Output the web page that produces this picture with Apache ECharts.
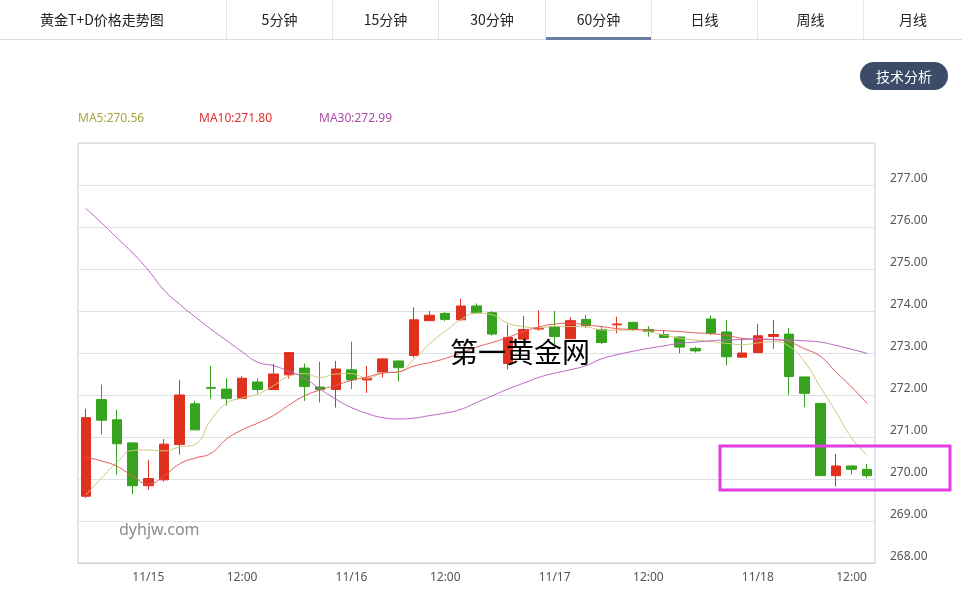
<!DOCTYPE html>
<html>
<head>
<meta charset="utf-8">
<script src="https://cdn.jsdelivr.net/npm/echarts@6/dist/echarts.min.js"></script>
<style>
  html,body{margin:0;padding:0;background:#fff;}
  body{width:962px;height:593px;position:relative;overflow:hidden;font-family:"Noto Sans CJK SC","Noto Sans",sans-serif;}
  #chart{position:absolute;left:0;top:0;width:962px;height:593px;}
  .tabs{position:absolute;left:0;top:0;width:962px;height:39px;border-bottom:1px solid #dcdcdc;z-index:2;}
  .tab{position:absolute;top:0;height:39px;line-height:39px;text-align:center;font-size:14px;color:#222;border-left:1px solid #e6e6e6;box-sizing:border-box;}
  .tab.title{border-left:none;text-align:left;padding-left:40px;}
  .tab.active:after{content:"";position:absolute;left:0;right:0;bottom:-1px;height:3px;background:#6a7ea3;}
  .btn{position:absolute;left:860px;top:62px;width:88px;height:28px;line-height:28px;border-radius:14px;background:#3c4c68;color:#fff;font-size:14px;text-align:center;z-index:2;}
  .legend{position:absolute;top:110px;font-size:12px;line-height:16px;z-index:2;font-family:"Noto Sans","Noto Sans CJK SC",sans-serif;}
</style>
</head>
<body>
<div id="chart"></div>
<div class="tabs">
  <div class="tab title" style="left:0;width:226px;">黄金T+D价格走势图</div>
  <div class="tab" style="left:226px;width:106px;">5分钟</div>
  <div class="tab" style="left:332px;width:106px;">15分钟</div>
  <div class="tab" style="left:438px;width:107px;">30分钟</div>
  <div class="tab active" style="left:545px;width:106px;">60分钟</div>
  <div class="tab" style="left:651px;width:106px;">日线</div>
  <div class="tab" style="left:757px;width:106px;">周线</div>
  <div class="tab" style="left:863px;width:99px;">月线</div>
</div>
<div class="btn">技术分析</div>
<div class="legend" style="left:78px;color:#a9a63c;">MA5:270.56</div>
<div class="legend" style="left:199px;color:#e0302a;">MA10:271.80</div>
<div class="legend" style="left:319px;color:#a84ca8;">MA30:272.99</div>
<script>
// ---- data ----
const categories = [
  "11/14 20:00","11/14 21:00","11/14 22:00","11/14 23:00",
  "11/15 00:00","11/15 01:00","11/15 02:00","11/15 09:00","11/15 10:00","11/15 11:00","11/15 12:00","11/15 14:00","11/15 15:00",
  "11/15 20:00","11/15 21:00","11/15 22:00","11/15 23:00",
  "11/16 00:00","11/16 01:00","11/16 02:00","11/16 09:00","11/16 10:00","11/16 11:00","11/16 12:00","11/16 14:00","11/16 15:00",
  "11/16 20:00","11/16 21:00","11/16 22:00","11/16 23:00",
  "11/17 00:00","11/17 01:00","11/17 02:00","11/17 09:00","11/17 10:00","11/17 11:00","11/17 12:00","11/17 14:00","11/17 15:00",
  "11/17 20:00","11/17 21:00","11/17 22:00","11/17 23:00",
  "11/18 00:00","11/18 01:00","11/18 02:00","11/18 09:00","11/18 10:00","11/18 11:00","11/18 12:00","11/18 14:00"
];
const openVals = [269.59,271.89,271.41,270.86,269.84,269.98,270.82,271.79,272.18,272.14,271.92,272.31,272.13,272.48,272.64,272.19,272.13,272.60,272.36,272.55,272.81,272.94,273.77,273.94,273.79,274.12,273.96,272.75,273.33,273.57,273.63,273.34,273.80,273.56,273.67,273.73,273.56,273.44,273.38,273.11,273.81,273.50,272.90,273.01,273.39,273.45,272.43,271.80,270.08,270.31,270.23];
const closeVals = [271.46,271.40,270.84,269.84,270.01,270.83,272.00,271.17,272.16,271.92,272.40,272.13,272.50,273.01,272.20,272.13,272.62,272.36,272.40,272.86,272.65,273.79,273.90,273.80,274.12,273.96,273.45,273.37,273.56,273.59,273.39,273.77,273.65,273.25,273.69,273.56,273.51,273.37,273.14,273.05,273.47,272.91,273.00,273.41,273.44,272.44,272.04,270.08,270.31,270.23,270.08];
const lowVals = [269.55,271.06,270.10,269.64,269.75,269.94,270.58,271.17,271.91,271.75,271.90,272.04,272.12,272.39,271.86,271.82,271.70,272.14,272.05,272.42,272.32,272.89,273.76,273.76,273.77,273.93,273.41,272.61,273.32,273.53,273.21,273.33,273.59,273.21,273.47,273.53,273.39,273.36,272.99,273.01,273.43,272.70,272.89,273.00,273.10,272.00,271.71,270.08,269.82,270.11,270.02];
const highVals = [271.67,272.25,271.65,270.87,270.45,270.95,272.36,271.86,272.69,272.40,272.45,272.40,272.74,273.02,272.75,272.79,272.81,273.27,272.69,272.87,272.82,274.09,274.00,273.98,274.29,274.18,274.00,273.68,273.88,274.02,274.00,273.85,273.90,273.63,273.86,273.74,273.64,273.55,273.39,273.15,273.89,273.79,273.35,273.69,273.79,273.60,272.44,271.80,270.60,270.31,270.36];
const ma5 = [269.62,270.02,270.40,270.68,270.69,270.67,270.76,270.83,271.40,271.80,271.93,272.02,272.22,272.45,272.51,272.42,272.50,272.51,272.40,272.52,272.55,272.85,273.22,273.52,273.79,273.95,273.91,273.71,273.63,273.60,273.63,273.63,273.62,273.55,273.54,273.55,273.51,273.43,273.35,273.31,273.27,273.23,273.20,273.24,273.27,273.16,272.79,272.19,271.60,270.98,270.56];
const ma10 = [270.52,270.43,270.30,270.07,269.88,270.07,270.36,270.50,270.61,270.95,271.17,271.33,271.51,271.76,271.98,272.12,272.23,272.35,272.43,272.52,272.55,272.69,272.77,272.87,273.00,273.14,273.25,273.37,273.51,273.62,273.69,273.71,273.67,273.63,273.58,273.56,273.55,273.53,273.51,273.48,273.46,273.42,273.35,273.33,273.32,273.26,273.10,272.92,272.55,272.19,271.80];
const ma30 = [276.44,276.10,275.74,275.38,274.97,274.50,274.16,273.86,273.57,273.30,273.03,272.78,272.70,272.56,272.40,272.14,271.90,271.70,271.56,271.46,271.43,271.45,271.51,271.57,271.66,271.82,271.98,272.14,272.28,272.42,272.52,272.60,272.70,272.86,272.96,273.04,273.11,273.17,273.23,273.26,273.29,273.31,273.32,273.33,273.32,273.31,273.29,273.26,273.18,273.09,272.99];

const candleData = categories.map((c, i) => [openVals[i], closeVals[i], lowVals[i], highVals[i]]);
const showTick = (idx, val) => { const t = val.split(" ")[1]; return t === "00:00" || t === "12:00"; };

const chart = echarts.init(document.getElementById('chart'), null, {renderer: 'canvas'});
const axisColor = '#c9d1db';
chart.setOption({
  animation: false,
  backgroundColor: '#fff',
  textStyle: {fontFamily: '"Noto Sans","Noto Sans CJK SC",sans-serif'},
  grid: {left: 78, right: 87, top: 143, bottom: 30, show: true, borderColor: axisColor, borderWidth: 1, backgroundColor: 'transparent'},
  xAxis: {
    type: 'category', data: categories, boundaryGap: true,
    axisLine: {lineStyle: {color: axisColor}},
    axisTick: {inside: true, length: 10, alignWithLabel: true, interval: showTick, lineStyle: {color: axisColor}},
    axisLabel: {interval: showTick, margin: 9, color: '#555', fontSize: 12,
      formatter: v => { const p = v.split(" "); return p[1] === "00:00" ? p[0] : p[1]; }},
    splitLine: {show: false}
  },
  yAxis: {
    type: 'value', position: 'right', min: 268, max: 278, interval: 1, scale: true,
    axisLine: {show: false}, axisTick: {show: false},
    axisLabel: {showMaxLabel: false, margin: 15, color: '#555', fontSize: 12, verticalAlign: 'bottom', formatter: v => v.toFixed(2)},
    splitLine: {lineStyle: {color: '#dde1e7'}}
  },
  series: [
    {type: 'candlestick', data: candleData, barWidth: 10,
      itemStyle: {color: '#e0301e', color0: '#35a31d', borderColor: '#e0301e', borderColor0: '#35a31d', borderWidth: 1}},
    {type: 'line', name: 'MA5', data: ma5, smooth: true, symbol: 'none', lineStyle: {width: 1, color: '#cfc77a'}, z: 3},
    {type: 'line', name: 'MA10', data: ma10, smooth: true, symbol: 'none', lineStyle: {width: 1, color: '#e8585a'}, z: 3},
    {type: 'line', name: 'MA30', data: ma30, smooth: true, symbol: 'none', lineStyle: {width: 1, color: '#b964c2'}, z: 3}
  ],
  graphic: [
    {type: 'text', left: 119, top: 522, z: 10, style: {text: 'dyhjw.com', fill: '#8c8c8c', font: '16px "Noto Sans", sans-serif'}},
    {type: 'text', left: 450, top: 338, z: 10, style: {text: '第一黄金网', fill: '#000', font: '28px "Noto Sans CJK SC", sans-serif'}},
    {type: 'rect', z: 20, shape: {x: 720, y: 446, width: 230, height: 44}, style: {fill: 'none', stroke: '#e23de3', lineWidth: 3}}
  ]
});
</script>
</body>
</html>
